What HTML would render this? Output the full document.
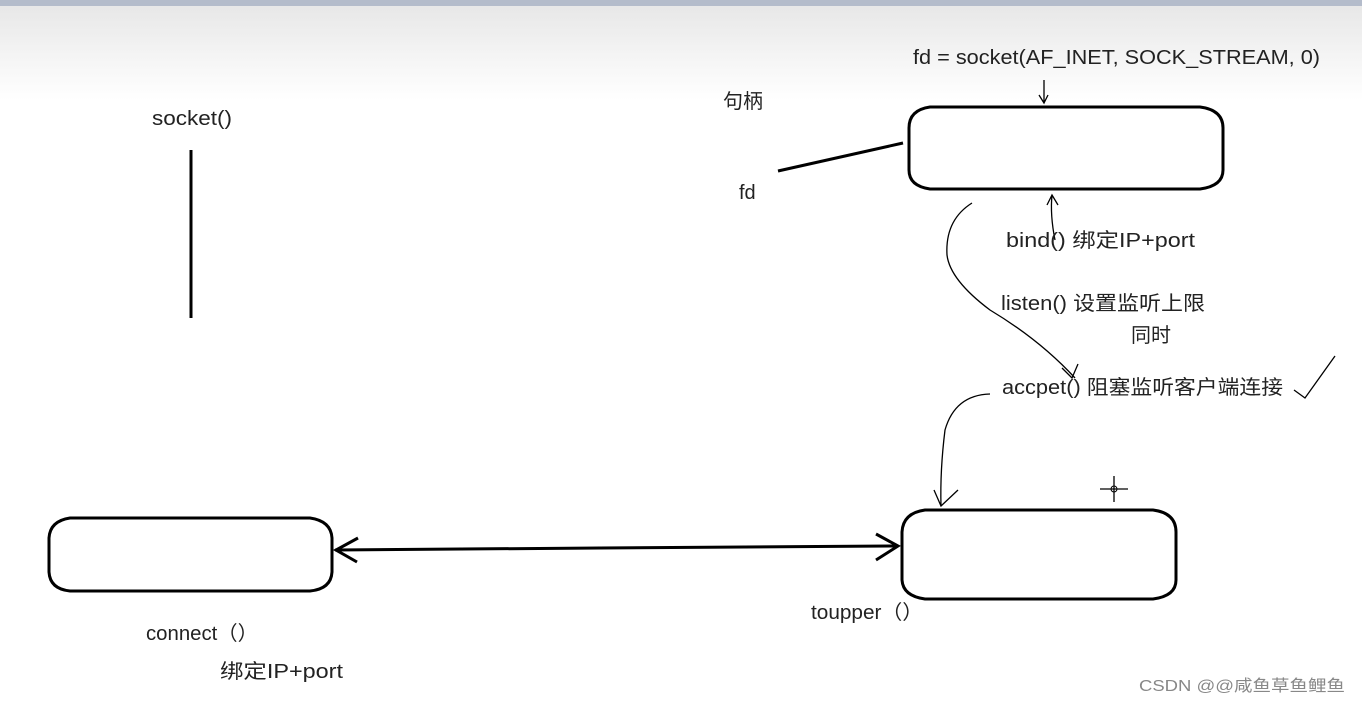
<!DOCTYPE html>
<html><head><meta charset="utf-8"><style>
html,body{margin:0;padding:0;width:1362px;height:703px;overflow:hidden;background:#fff}
svg{display:block}
text{font-family:"Liberation Sans","Noto Sans CJK SC",sans-serif;fill:#222}
</style></head><body>
<svg width="1362" height="703" viewBox="0 0 1362 703" xmlns="http://www.w3.org/2000/svg">
<defs><linearGradient id="g" x1="0" y1="0" x2="0" y2="1"><stop offset="0" stop-color="#e6e6e6"/><stop offset="1" stop-color="#ffffff"/></linearGradient></defs>
<rect x="0" y="0" width="1362" height="100" fill="url(#g)"/>
<rect x="0" y="0" width="1362" height="6" fill="#b4bccb"/>
<g fill="none" stroke="#000" stroke-width="3">
<path d="M930 107 H1200 Q1223 110 1223 128 V170 Q1223 186 1200 189 H930 Q909 186 909 170 V128 Q909 110 930 107 Z"/>
<path d="M70 518 H310 Q331 521 332 538 V572 Q331 589 310 591 H70 Q50 589 49 572 V538 Q50 521 70 518 Z"/>
<path d="M925 510 H1153 Q1176 513 1176 532 V580 Q1176 596 1153 599 H925 Q903 596 902 580 V532 Q903 513 925 510 Z"/>
<line x1="191" y1="150" x2="191" y2="318"/>
<line x1="778" y1="171" x2="903" y2="143"/>
<path d="M335 550 L600 548 L898 546"/>
<path d="M358 538 L336 550 L357 562"/>
<path d="M876 534 L898 546 L876 560"/>
</g>
<g fill="none" stroke="#000" stroke-width="1.3">
<path d="M1044 80 V103 M1039 95 L1044 103 L1048 95"/>
<path d="M1055 240 Q1050 215 1052 195 M1047 205 L1052 195 L1058 205"/>
<path d="M972 203 Q945 220 947 255 Q950 280 990 310 Q1040 340 1075 378 M1062 368 L1072 378 L1078 364"/>
<path d="M990 394 Q955 395 945 430 Q940 470 941 506 M934 490 L941 506 L958 490"/>
<path d="M1294 390 L1305 398 L1335 356"/>
<path d="M1114 476 V502 M1100 489 H1128"/>
</g>
<circle cx="1114" cy="489" r="3" fill="none" stroke="#000" stroke-width="1"/>
<g font-size="20" lengthAdjust="spacingAndGlyphs">
<text x="913" y="64" textLength="407" lengthAdjust="spacingAndGlyphs">fd = socket(AF_INET, SOCK_STREAM, 0)</text>
<text x="152" y="125" textLength="80" lengthAdjust="spacingAndGlyphs">socket()</text>
<text x="723" y="108">句柄</text>
<text x="739" y="199">fd</text>
<text x="1006" y="247" textLength="189" lengthAdjust="spacingAndGlyphs">bind() 绑定IP+port</text>
<text x="1001" y="310" textLength="204" lengthAdjust="spacingAndGlyphs">listen() 设置监听上限</text>
<text x="1131" y="342">同时</text>
<text x="1002" y="394" textLength="281" lengthAdjust="spacingAndGlyphs">accpet() 阻塞监听客户端连接</text>
<text x="146" y="640" textLength="112" lengthAdjust="spacingAndGlyphs">connect（）</text>
<text x="220" y="678" textLength="123" lengthAdjust="spacingAndGlyphs">绑定IP+port</text>
<text x="811" y="619" textLength="112" lengthAdjust="spacingAndGlyphs">toupper（）</text>
</g>
<text x="1139" y="691" font-size="16" textLength="206" lengthAdjust="spacingAndGlyphs" style="fill:#888">CSDN @@咸鱼草鱼鲤鱼</text>
</svg>
</body></html>
